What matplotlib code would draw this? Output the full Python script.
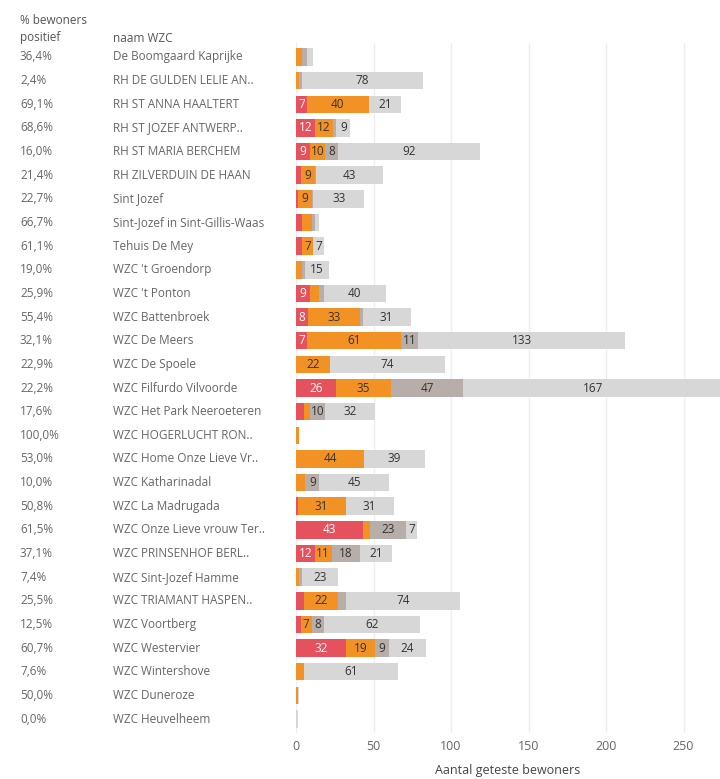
import matplotlib
matplotlib.use("Agg")
import matplotlib.pyplot as plt
import matplotlib.transforms as mtransforms
import numpy as np

plt.rcParams['font.family'] = ['Open Sans', 'DejaVu Sans']

names = ["De Boomgaard Kaprijke", "RH DE GULDEN LELIE AN..", "RH ST ANNA HAALTERT",
         "RH ST JOZEF ANTWERP..", "RH ST MARIA BERCHEM", "RH ZILVERDUIN DE HAAN",
         "Sint Jozef", "Sint-Jozef in Sint-Gillis-Waas", "Tehuis De Mey",
         "WZC 't Groendorp", "WZC 't Ponton", "WZC Battenbroek", "WZC De Meers",
         "WZC De Spoele", "WZC Filfurdo Vilvoorde", "WZC Het Park Neeroeteren",
         "WZC HOGERLUCHT RON..", "WZC Home Onze Lieve Vr..", "WZC Katharinadal",
         "WZC La Madrugada", "WZC Onze Lieve vrouw Ter..", "WZC PRINSENHOF BERL..",
         "WZC Sint-Jozef Hamme", "WZC TRIAMANT HASPEN..", "WZC Voortberg",
         "WZC Westervier", "WZC Wintershove", "WZC Duneroze", "WZC Heuvelheem"]
pct_positive = ["36,4%", "2,4%", "69,1%", "68,6%", "16,0%", "21,4%", "22,7%", "66,7%",
                "61,1%", "19,0%", "25,9%", "55,4%", "32,1%", "22,9%", "22,2%", "17,6%",
                "100,0%", "53,0%", "10,0%", "50,8%", "61,5%", "37,1%", "7,4%", "25,5%",
                "12,5%", "60,7%", "7,6%", "50,0%", "0,0%"]
# positive with symptoms, positive without, negative with symptoms, negative without
pos_sympt = [0, 0, 7, 12, 9, 3, 1, 4, 4, 0, 9, 8, 7, 0, 26, 5, 0, 0, 0, 1, 43, 12, 0, 5, 3, 32, 0, 0, 0]
pos_asympt = [4, 2, 40, 12, 10, 9, 9, 6, 7, 4, 6, 33, 61, 22, 35, 4, 2, 44, 6, 31, 5, 11, 2, 22, 7, 19, 5, 1, 0]
neg_sympt = [3, 2, 0, 2, 8, 1, 1, 2, 0, 2, 3, 2, 11, 0, 47, 10, 0, 0, 9, 0, 23, 18, 2, 5, 8, 9, 0, 0, 0]
neg_asympt = [4, 78, 21, 9, 92, 43, 33, 3, 7, 15, 40, 31, 133, 74, 167, 32, 0, 39, 45, 31, 7, 21, 23, 74, 62, 24, 61, 1, 1]
x_ticks = [0, 50, 100, 150, 200, 250]

W, H = 720, 779
fig = plt.figure(figsize=(W / 100, H / 100), dpi=100)
ax = fig.add_axes([296 / W, (H - 733.2) / H, (W - 296) / W, (733.2 - 42.8) / H])

series = [pos_sympt, pos_asympt, neg_sympt, neg_asympt]
colors = ["#E5525E", "#F39224", "#B7ADA9", "#D7D7D7"]
txtcolors = ["white", "#333333", "#333333", "#333333"]
y = np.arange(len(names))
left = np.zeros(len(names))
for vals, c, tc in zip(series, colors, txtcolors):
    vals = np.array(vals, dtype=float)
    ax.barh(y, vals, left=left, height=0.74, color=c, edgecolor='none', zorder=2)
    for yi, (l, v) in enumerate(zip(left, vals)):
        if v >= 7:
            ax.text(l + v / 2, yi, f"{int(v)}", ha='center', va='center',
                    fontsize=8.5, color=tc, zorder=3)
    left = left + vals

ax.set_xlim(0, 273.5)
ax.set_ylim(len(names) - 0.4, -0.6)
ax.set_yticks([])
ax.set_xticks(x_ticks)
ax.set_xticklabels([str(t) for t in x_ticks])
ax.tick_params(axis='x', length=0, pad=5, labelsize=9, labelcolor='#666666')
for s in ax.spines.values():
    s.set_visible(False)
ax.grid(axis='x', color='#EEEEEE', linewidth=1, zorder=0)
ax.set_axisbelow(True)
ax.set_xlabel("Aantal geteste bewoners", fontsize=9, color='#444444', labelpad=8)

trans = mtransforms.blended_transform_factory(fig.transFigure, ax.transData)
for yi, (p, n) in enumerate(zip(pct_positive, names)):
    ax.text(20 / W, yi, p, transform=trans, ha='left', va='center',
            fontsize=8.5, color='#666666', clip_on=False)
    ax.text(113 / W, yi, n, transform=trans, ha='left', va='center',
            fontsize=8.5, color='#666666', clip_on=False)

fig.text(20 / W, 1 - 20 / H, "% bewoners", ha='left', va='center', fontsize=8.5, color='#555555')
fig.text(20 / W, 1 - 38 / H, "positief", ha='left', va='center', fontsize=8.5, color='#555555')
fig.text(113 / W, 1 - 38 / H, "naam WZC", ha='left', va='center', fontsize=8.5, color='#555555')

fig.savefig("out.png", dpi=100, facecolor='white')
